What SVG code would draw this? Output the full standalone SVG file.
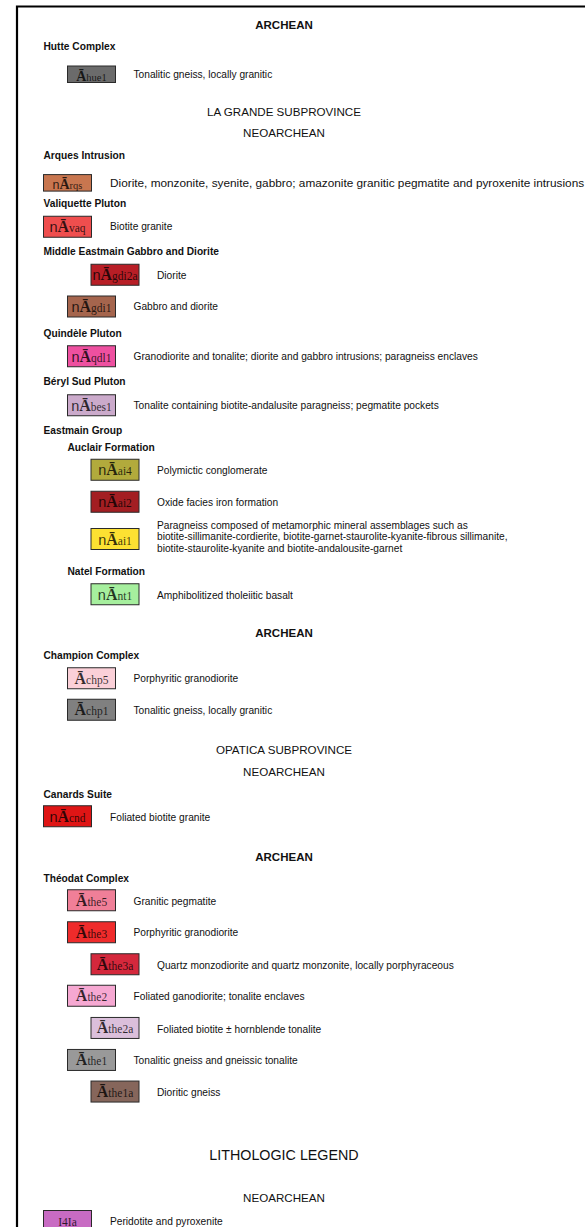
<svg xmlns="http://www.w3.org/2000/svg" width="585" height="1227" viewBox="0 0 585 1227">
<style>
text{font-family:"Liberation Sans",Arial,sans-serif;fill:#111}
.h{font-size:11.5px;font-weight:bold;text-anchor:middle}
.hr{font-size:11.6px;text-anchor:middle}
.big{font-size:14.3px;text-anchor:middle}
.g{font-size:10.2px;font-weight:bold}
.d{font-size:10.2px}
.box{stroke:#2a2a2a;stroke-width:1}
.c{text-anchor:middle;fill:#000;fill-opacity:.78}
.n{font-family:"Liberation Sans",Arial,sans-serif;font-size:14.5px}
.A{font-family:"Liberation Serif","Times New Roman",serif;font-size:16px;font-weight:bold}
.s{font-family:"Liberation Serif","Times New Roman",serif;font-size:11.5px}
.sm .n{font-size:12.5px}
.sm .A{font-size:14px}
.sm .s{font-size:10.5px}
</style>
<g id="frame"><path d="M17 1227V6.5H585" fill="none" stroke="#000" stroke-width="2.2"/></g>

<g id="headings">
<text class="h" x="284" y="29">ARCHEAN</text>
<text class="hr" x="284" y="115.9">LA GRANDE SUBPROVINCE</text>
<text class="hr" x="284" y="137.2">NEOARCHEAN</text>
<text class="h" x="284" y="637.4">ARCHEAN</text>
<text class="hr" x="284" y="754.2">OPATICA SUBPROVINCE</text>
<text class="hr" x="284" y="775.9">NEOARCHEAN</text>
<text class="h" x="284" y="860.8">ARCHEAN</text>
<text class="big" x="284" y="1160">LITHOLOGIC LEGEND</text>
<text class="hr" x="284" y="1202">NEOARCHEAN</text>
</g>

<g id="labels">
<text class="g" x="43.5" y="50.3">Hutte Complex</text>
<text class="g" x="43.5" y="158.7">Arques Intrusion</text>
<text class="g" x="43.5" y="206.5">Valiquette Pluton</text>
<text class="g" x="43.5" y="255.4">Middle Eastmain Gabbro and Diorite</text>
<text class="g" x="43.5" y="337">Quindèle Pluton</text>
<text class="g" x="43.5" y="385.4">Béryl Sud Pluton</text>
<text class="g" x="43.5" y="433.7">Eastmain Group</text>
<text class="g" x="67.5" y="451.4">Auclair Formation</text>
<text class="g" x="67.5" y="575.4">Natel Formation</text>
<text class="g" x="43.5" y="658.7">Champion Complex</text>
<text class="g" x="43.5" y="798">Canards Suite</text>
<text class="g" x="43.5" y="882.4">Théodat Complex</text>
</g>

<g id="hue1" class="sm">
<rect class="box" x="67.5" y="66" width="48" height="16.5" fill="#6b6b6b"/>
<text class="c" x="91.5" y="80.5"><tspan class="A">Ā</tspan><tspan class="s">hue1</tspan></text>
<text class="d" x="133.5" y="77.9">Tonalitic gneiss, locally granitic</text>
</g>
<g id="rqs" class="sm">
<rect class="box" x="43.5" y="174.6" width="48" height="16.5" fill="#c8764f"/>
<text class="c" x="67.5" y="188.5"><tspan class="n">n</tspan><tspan class="A">Ā</tspan><tspan class="s">rqs</tspan></text>
<text class="d" x="110" y="187" style="font-size:11.8px">Diorite, monzonite, syenite, gabbro; amazonite granitic pegmatite and pyroxenite intrusions</text>
</g>
<g id="vaq">
<rect class="box" x="43.5" y="216.25" width="48" height="21" fill="#ef4e4e"/>
<text class="c" x="67.5" y="232"><tspan class="n">n</tspan><tspan class="A">Ā</tspan><tspan class="s">vaq</tspan></text>
<text class="d" x="110" y="230.4">Biotite granite</text>
</g>
<g id="gdi2a">
<rect class="box" x="91" y="264.25" width="48" height="21" fill="#b81e26"/>
<text class="c" x="115" y="280"><tspan class="n">n</tspan><tspan class="A">Ā</tspan><tspan class="s">gdi2a</tspan></text>
<text class="d" x="157" y="278.7">Diorite</text>
</g>
<g id="gdi1">
<rect class="box" x="67.5" y="296" width="48" height="21" fill="#a5654d"/>
<text class="c" x="91.5" y="312"><tspan class="n">n</tspan><tspan class="A">Ā</tspan><tspan class="s">gdi1</tspan></text>
<text class="d" x="133.5" y="310.2">Gabbro and diorite</text>
</g>
<g id="qdl1">
<rect class="box" x="67.5" y="345.75" width="48" height="21" fill="#ee50a0"/>
<text class="c" x="91.5" y="361.5"><tspan class="n">n</tspan><tspan class="A">Ā</tspan><tspan class="s">qdl1</tspan></text>
<text class="d" x="133.5" y="360">Granodiorite and tonalite; diorite and gabbro intrusions; paragneiss enclaves</text>
</g>
<g id="bes1">
<rect class="box" x="67.5" y="394.75" width="48" height="21" fill="#cbaacb"/>
<text class="c" x="91.5" y="410.5"><tspan class="n">n</tspan><tspan class="A">Ā</tspan><tspan class="s">bes1</tspan></text>
<text class="d" x="133.5" y="408.7">Tonalite containing biotite-andalusite paragneiss; pegmatite pockets</text>
</g>
<g id="ai4">
<rect class="box" x="91" y="459.25" width="48" height="21" fill="#b2aa3c"/>
<text class="c" x="115" y="475"><tspan class="n">n</tspan><tspan class="A">Ā</tspan><tspan class="s">ai4</tspan></text>
<text class="d" x="157" y="474">Polymictic conglomerate</text>
</g>
<g id="ai2">
<rect class="box" x="91" y="491.25" width="48" height="21" fill="#a31e22"/>
<text class="c" x="115" y="507"><tspan class="n">n</tspan><tspan class="A">Ā</tspan><tspan class="s">ai2</tspan></text>
<text class="d" x="157" y="506">Oxide facies iron formation</text>
</g>
<g id="ai1">
<rect class="box" x="91" y="528.5" width="48" height="21" fill="#fde132"/>
<text class="c" x="115" y="544.5"><tspan class="n">n</tspan><tspan class="A">Ā</tspan><tspan class="s">ai1</tspan></text>
<text class="d" x="157" y="528.7">Paragneiss composed of metamorphic mineral assemblages such as</text>
<text class="d" x="157" y="540.4">biotite-sillimanite-cordierite, biotite-garnet-staurolite-kyanite-fibrous sillimanite,</text>
<text class="d" x="157" y="552">biotite-staurolite-kyanite and biotite-andalousite-garnet</text>
</g>
<g id="nt1">
<rect class="box" x="91" y="583.75" width="48" height="21" fill="#a6ef9e"/>
<text class="c" x="115" y="599.5"><tspan class="n">n</tspan><tspan class="A">Ā</tspan><tspan class="s">nt1</tspan></text>
<text class="d" x="157" y="599">Amphibolitized tholeiitic basalt</text>
</g>
<g id="chp5">
<rect class="box" x="67.5" y="667.75" width="48" height="21" fill="#fbd0d8"/>
<text class="c" x="91.5" y="683.5"><tspan class="A">Ā</tspan><tspan class="s">chp5</tspan></text>
<text class="d" x="133.5" y="682">Porphyritic granodiorite</text>
</g>
<g id="chp1">
<rect class="box" x="67.5" y="699.25" width="48" height="21" fill="#808080"/>
<text class="c" x="91.5" y="715"><tspan class="A">Ā</tspan><tspan class="s">chp1</tspan></text>
<text class="d" x="133.5" y="713.7">Tonalitic gneiss, locally granitic</text>
</g>
<g id="cnd">
<rect class="box" x="43.5" y="805.75" width="48" height="21" fill="#df1515"/>
<text class="c" x="67.5" y="821.5"><tspan class="n">n</tspan><tspan class="A">Ā</tspan><tspan class="s">cnd</tspan></text>
<text class="d" x="110" y="820.5">Foliated biotite granite</text>
</g>
<g id="the5">
<rect class="box" x="67.5" y="889.75" width="48" height="21" fill="#f07f98"/>
<text class="c" x="91.5" y="905.5"><tspan class="A">Ā</tspan><tspan class="s">the5</tspan></text>
<text class="d" x="133.5" y="905">Granitic pegmatite</text>
</g>
<g id="the3">
<rect class="box" x="67.5" y="921.75" width="48" height="21" fill="#ef2b2b"/>
<text class="c" x="91.5" y="937.5"><tspan class="A">Ā</tspan><tspan class="s">the3</tspan></text>
<text class="d" x="133.5" y="936.3">Porphyritic granodiorite</text>
</g>
<g id="the3a">
<rect class="box" x="91" y="953.75" width="48" height="21" fill="#d4283c"/>
<text class="c" x="115" y="969.5"><tspan class="A">Ā</tspan><tspan class="s">the3a</tspan></text>
<text class="d" x="157" y="968.5">Quartz monzodiorite and quartz monzonite, locally porphyraceous</text>
</g>
<g id="the2">
<rect class="box" x="67.5" y="985.25" width="48" height="21" fill="#f6a8d2"/>
<text class="c" x="91.5" y="1001"><tspan class="A">Ā</tspan><tspan class="s">the2</tspan></text>
<text class="d" x="133.5" y="1000">Foliated ganodiorite; tonalite enclaves</text>
</g>
<g id="the2a">
<rect class="box" x="91" y="1017.45" width="48" height="21" fill="#dbbfdb"/>
<text class="c" x="115" y="1033.2"><tspan class="A">Ā</tspan><tspan class="s">the2a</tspan></text>
<text class="d" x="157" y="1032.5">Foliated biotite ± hornblende tonalite</text>
</g>
<g id="the1">
<rect class="box" x="67.5" y="1049.45" width="48" height="21" fill="#999999"/>
<text class="c" x="91.5" y="1065.2"><tspan class="A">Ā</tspan><tspan class="s">the1</tspan></text>
<text class="d" x="133.5" y="1063.8">Tonalitic gneiss and gneissic tonalite</text>
</g>
<g id="the1a">
<rect class="box" x="91" y="1081.05" width="48" height="21" fill="#86665b"/>
<text class="c" x="115" y="1096.8"><tspan class="A">Ā</tspan><tspan class="s">the1a</tspan></text>
<text class="d" x="157" y="1095.6">Dioritic gneiss</text>
</g>
<g id="I4Ia">
<rect class="box" x="43.5" y="1210.5" width="48" height="21" fill="#c86bc3"/>
<text class="c s" x="67.5" y="1225.5">I4Ia</text>
<text class="d" x="110" y="1224.7">Peridotite and pyroxenite</text>
</g>
</svg>
